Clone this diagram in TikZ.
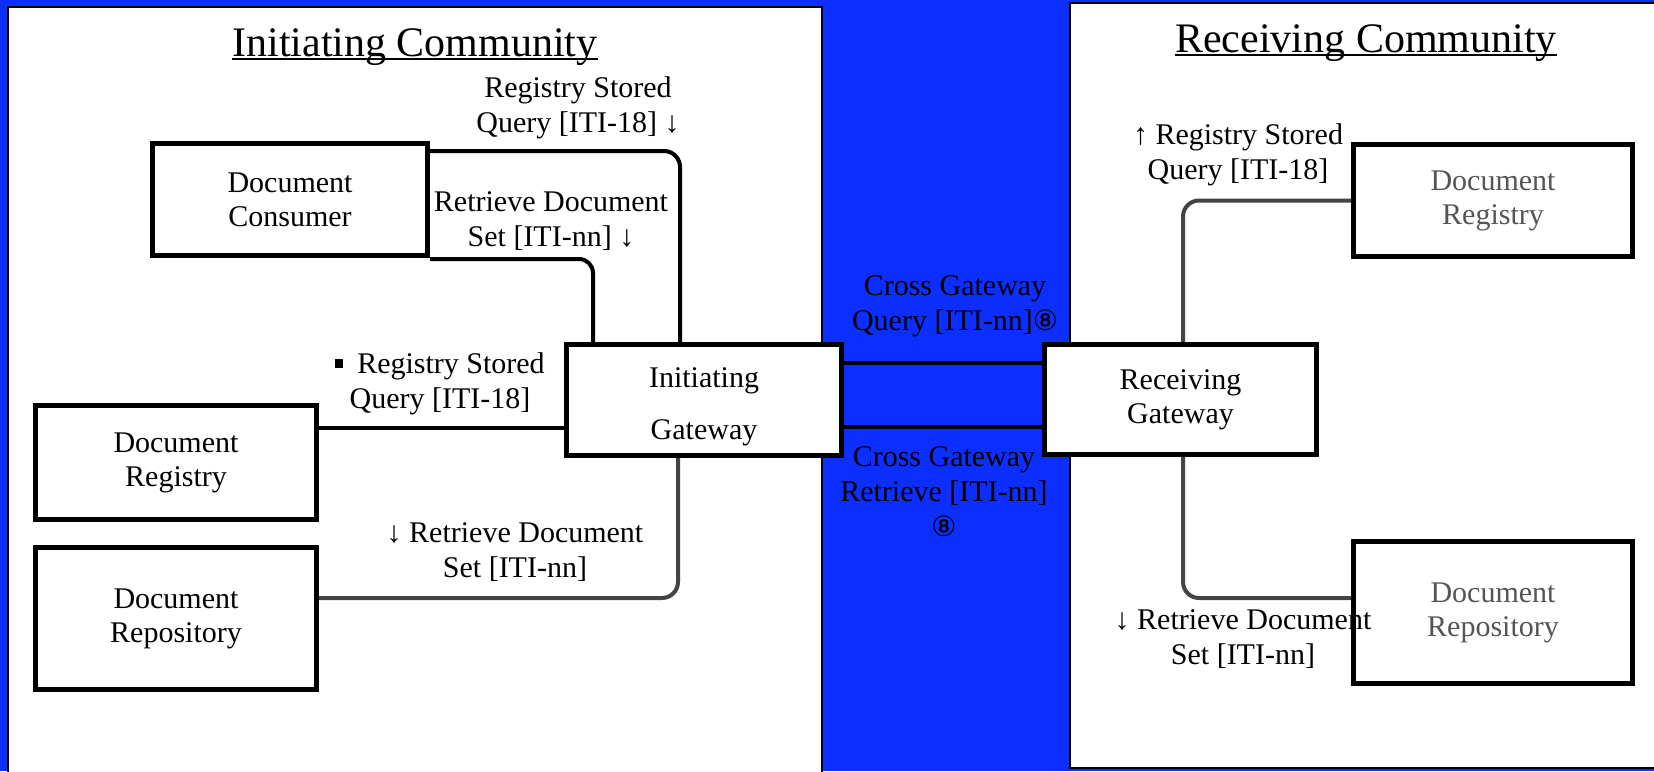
\documentclass[tikz,border=0pt]{standalone}
\usepackage{fontspec}
\setmainfont{Liberation Serif}
\newfontfamily\symfont{DejaVu Sans}
\usetikzlibrary{calc}
\definecolor{bg}{RGB}{12,46,255}
\definecolor{gr}{RGB}{68,68,68}
\definecolor{grtext}{RGB}{85,85,85}
\newcommand\myul[1]{\setbox0\hbox{#1}\rlap{\rule[-1.8pt]{\wd0}{1pt}}\box0}
\newcommand\eight{{\symfont\fontsize{14}{14}\selectfont ⑧}}
\begin{document}
\begin{tikzpicture}[x=0.5pt,y=-0.5pt,
  box/.style={draw, line width=2.5pt, fill=white, align=center, inner sep=0pt, outer sep=1.25pt,
    font=\fontsize{15}{17}\selectfont},
  lbl/.style={align=center, inner sep=0pt, font=\fontsize{15}{17.5}\selectfont},
  ttl/.style={inner sep=0pt, font=\fontsize{21}{25}\selectfont},
  blk/.style={line width=2pt, draw=black},
  gry/.style={line width=2pt, draw=gr}]
\useasboundingbox (0,0) rectangle (1654,771);
% background and panels
\fill[bg] (0,0) rectangle (1654,771);
\draw[fill=white, line width=0.75pt] (8,7) rectangle (822,790);
\draw[fill=white, line width=0.75pt] (1070,3) rectangle (1670,768);
% titles
\node[ttl] (t1) at (415,47) {\myul{Initiating Community}};
\node[ttl] (t2) at (1366,43) {\myul{Receiving Community}};
% boxes
\node[box, minimum width=137.5pt, minimum height=56pt] (cons) at (290,199.5) {Document\\Consumer};
\node[box, minimum width=137.5pt, minimum height=55.5pt] (igw) at (704,400)
  {\raisebox{-3.25pt}[\height][\depth]{\begin{tabular}{@{}c@{}}Initiating\\[9pt]Gateway\end{tabular}}};
\node[box, minimum width=140.5pt, minimum height=57pt] (lreg) at (176,462.5) {Document\\Registry};
\node[box, minimum width=140.5pt, minimum height=71pt] (lrep) at (176,618.5) {Document\\Repository};
\node[box, minimum width=136pt, minimum height=55pt] (rgw) at (1180.5,399.5) {Receiving\\Gateway};
\node[box, minimum width=139.5pt, minimum height=56pt, text=grtext] (rreg) at (1493,200.5) {Document\\Registry};
\node[box, minimum width=139.5pt, minimum height=71pt, text=grtext] (rrep) at (1493,612.5) {Document\\Repository};
% connectors
\draw[blk, rounded corners=8pt] ([yshift=-5pt]cons.north east) -| ([xshift=-12pt]igw.north);
\draw[blk, rounded corners=7pt] ([yshift=-0.5pt]cons.south east) -| ([xshift=-55.5pt]igw.north);
\draw[blk] ([yshift=17.25pt]lreg.east) -- ([yshift=17.25pt]lreg.east -| igw.west);
\draw[gry, rounded corners=8pt] ([xshift=-13pt]igw.south) |- ([yshift=10.25pt]lrep.east);
\draw[blk] ([yshift=18.5pt]igw.east) -- ([yshift=18.5pt]igw.east -| rgw.west);
\draw[blk] ([yshift=-13.5pt]igw.east) -- ([yshift=-13.5pt]igw.east -| rgw.west);
\draw[gry, rounded corners=8pt] ([xshift=1.25pt]rgw.north) |- (rreg.west);
\draw[gry, rounded corners=8pt] ([xshift=1.25pt]rgw.south) |- ([yshift=7.25pt]rrep.west);
% labels
\node[lbl] (l1) at (578,107.5) {Registry Stored\\Query [ITI-18] ↓};
\node[lbl] (l2) at (551,221) {Retrieve Document\\Set [ITI-nn] ↓};
\node[lbl] (l3) at (440,384) {\rule[3pt]{4pt}{4.5pt}\hspace{7pt}Registry Stored\\Query [ITI-18]};
\node[lbl] (l4) at (515,552.5) {↓ Retrieve Document\\Set [ITI-nn]};
\node[lbl] (l5) at (955,306) {Cross Gateway\\Query [ITI-nn]\eight};
\node[lbl] (l6) at (944,492) {Cross Gateway\\Retrieve [ITI-nn]\\\eight};
\node[lbl] (l7) at (1238,154.5) {↑ Registry Stored\\Query [ITI-18]};
\node[lbl] (l8) at (1243,639) {↓ Retrieve Document\\Set [ITI-nn]};
\end{tikzpicture}
\end{document}
